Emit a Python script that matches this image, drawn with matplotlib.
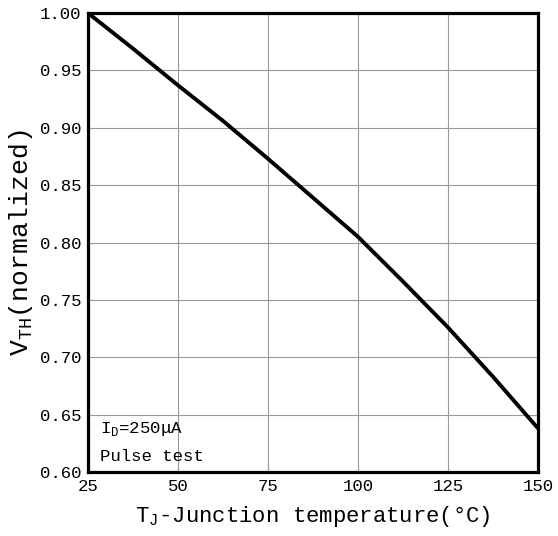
import matplotlib
matplotlib.use("Agg")
import matplotlib.pyplot as plt

plt.rcParams['font.family'] = ['Liberation Mono', 'Noto Sans CJK SC', 'DejaVu Sans Mono']
plt.rcParams['mathtext.fontset'] = 'custom'
plt.rcParams['mathtext.rm'] = 'Liberation Mono'

# 读图得到的数据
temp = [25, 37.5, 50, 62.5, 75, 87.5, 100, 112.5, 125, 137.5, 150]
vth = [1.000, 0.969, 0.937, 0.906, 0.873, 0.839, 0.805, 0.766, 0.726, 0.683, 0.638]

x_ticks = [25, 50, 75, 100, 125, 150]
y_ticks = [0.60, 0.65, 0.70, 0.75, 0.80, 0.85, 0.90, 0.95, 1.00]

fig = plt.figure(figsize=(5.58, 5.36), dpi=100)
ax = fig.add_axes([0.1577, 0.1194, 0.8065, 0.8563])

ax.plot(temp, vth, color="black", linewidth=2.8, solid_capstyle="butt",
        solid_joinstyle="round", zorder=3)

ax.set_xlim(25, 150)
ax.set_ylim(0.60, 1.00)
ax.set_xticks(x_ticks)
ax.set_yticks(y_ticks)
ax.set_yticklabels(["%.2f" % v for v in y_ticks])
ax.grid(True, color="#999999", linewidth=0.8)
ax.tick_params(direction="in", length=3, width=0.8, color="#999999", labelsize=12.5, pad=5)

for sp in ax.spines.values():
    sp.set_linewidth(2.3)

# mathtext 里没有 ℃ 这个字，用 °C
ax.set_xlabel(r"T$_\mathrm{J}$-Junction temperature(°C)", fontsize=16, labelpad=7)
ax.set_ylabel(r"V$_\mathrm{TH}$(normalized)", fontsize=19, labelpad=3)

ax.text(0.027, 0.085, r"I$_\mathrm{D}$=250μA", transform=ax.transAxes, fontsize=12.5)
ax.text(0.027, 0.025, "Pulse test", transform=ax.transAxes, fontsize=12.5)

plt.savefig("out.png", dpi=100)
